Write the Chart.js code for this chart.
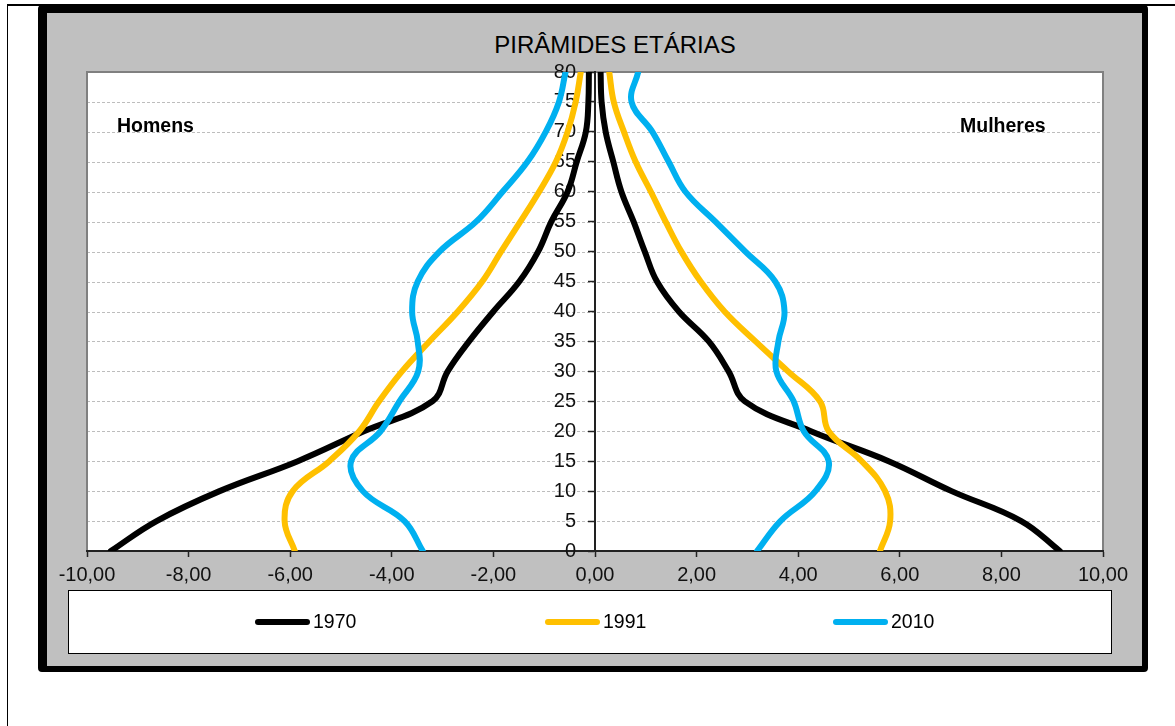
<!DOCTYPE html>
<html>
<head>
<meta charset="utf-8">
<script src="https://cdn.jsdelivr.net/npm/chart.js@4.4.1/dist/chart.umd.min.js"></script>
<style>
  html, body { margin: 0; padding: 0; background: #fff; }
  body { width: 1175px; height: 726px; position: relative; overflow: hidden; font-family: "Liberation Sans", Arial, sans-serif; }
  .pageline-v { position: absolute; left: 7px; top: 4px; width: 1px; height: 722px; background: #000; }
  .pageline-h { position: absolute; left: 7px; top: 4px; width: 1168px; height: 2px; background: #000; }
  #frame { position: absolute; left: 38px; top: 5px; width: 1095px; height: 653px; background: #c0c0c0;
           border-style: solid; border-color: #000; border-width: 8px 6px 6px 9px; border-radius: 4px; }
  #chart { position: absolute; left: 0; top: 0; }
  .title { position: absolute; left: 415px; top: 33px; width: 400px; text-align: center; font-size: 24px; line-height: 24px; color: #000; }
  .side { position: absolute; top: 116px; font-size: 19.5px; line-height: 19px; font-weight: bold; color: #000; }
  #legend { position: absolute; left: 68px; top: 590px; width: 1042px; height: 62px; background: #fff; border: 1px solid #000; }
  .lg-line { position: absolute; height: 6px; width: 55px; border-radius: 3px; top: 619px; }
  .lg-text { position: absolute; top: 612px; font-size: 19.5px; line-height: 19px; color: #000; }
</style>
</head>
<body>
<div class="pageline-v"></div>
<div class="pageline-h"></div>
<div id="frame"></div>
<div class="title">PIRÂMIDES ETÁRIAS</div>
<div id="legend"></div>
<canvas id="chart" width="1175" height="726"></canvas>
<div class="side" style="left:117px;">Homens</div>
<div class="side" style="left:960px;">Mulheres</div>
<div id="legend-items"></div>
<script>
// ---- data ----
const ages = [0, 5, 10, 15, 20, 25, 30, 35, 40, 45, 50, 55, 60, 65, 70, 75, 80];
const years = ['1970', '1991', '2010'];

const homens1970   = [-9.53, -8.63, -7.39, -5.85, -4.55, -3.20, -2.90, -2.48, -2.00, -1.49, -1.12, -0.86, -0.54, -0.36, -0.18, -0.13, -0.12];
const mulheres1970 = [ 9.15,  8.39,  7.02,  5.78,  4.25,  2.95,  2.63,  2.24,  1.65,  1.22,  0.98,  0.76,  0.52,  0.36,  0.21,  0.13,  0.11];
const homens1991   = [-5.91, -6.11, -5.95, -5.23, -4.64, -4.25, -3.80, -3.26, -2.70, -2.22, -1.85, -1.47, -1.10, -0.77, -0.54, -0.38, -0.28];
const mulheres1991 = [ 5.61,  5.81,  5.71,  5.25,  4.60,  4.43,  3.80,  3.16,  2.55,  2.08,  1.70,  1.39,  1.10,  0.80,  0.57,  0.37,  0.28];
const homens2010   = [-3.39, -3.75, -4.57, -4.80, -4.22, -3.85, -3.48, -3.49, -3.60, -3.49, -3.06, -2.34, -1.82, -1.33, -0.97, -0.71, -0.58];
const mulheres2010 = [ 3.19,  3.65,  4.34,  4.60,  4.11,  3.91,  3.57,  3.61,  3.73,  3.55,  2.96,  2.37,  1.78,  1.45,  1.13,  0.72,  0.85];

const xTickLabels = ['-10,00', '-8,00', '-6,00', '-4,00', '-2,00', '0,00', '2,00', '4,00', '6,00', '8,00', '10,00'];
const yTickLabels = ['0', '5', '10', '15', '20', '25', '30', '35', '40', '45', '50', '55', '60', '65', '70', '75', '80'];

// ---- styles ----
const colors = ['#000000', '#FFC000', '#00B0F0'];
const menSeries = [homens1970, homens1991, homens2010];
const womenSeries = [mulheres1970, mulheres1991, mulheres2010];
const FONT = '"Liberation Sans", Arial, sans-serif';

const datasets = [];
years.forEach((yr, i) => {
  [menSeries[i], womenSeries[i]].forEach((arr) => {
    datasets.push({
      label: yr,
      data: ages.map((a, k) => ({ x: arr[k], y: a })),
      showLine: true,
      borderColor: colors[i],
      backgroundColor: colors[i],
      borderWidth: 6,
      pointRadius: 0,
      pointHoverRadius: 0,
      tension: 0.4,
      borderCapStyle: 'round',
      borderJoinStyle: 'round',
      order: years.length - i
    });
  });
});

const plotBg = {
  id: 'plotBg',
  beforeDraw(chart) {
    const { ctx, chartArea: a, scales: { y } } = chart;
    ctx.save();
    ctx.fillStyle = '#ffffff';
    ctx.fillRect(a.left, a.top, a.right - a.left, a.bottom - a.top);
    ctx.strokeStyle = '#bdbdbd';
    ctx.lineWidth = 1;
    ctx.setLineDash([3, 2]);
    y.ticks.forEach((t) => {
      if (t.value > y.min && t.value < y.max) {
        const py = Math.round(y.getPixelForValue(t.value)) + 0.5;
        ctx.beginPath();
        ctx.moveTo(a.left, py);
        ctx.lineTo(a.right, py);
        ctx.stroke();
      }
    });
    ctx.setLineDash([]);
    ctx.strokeStyle = '#808080';
    ctx.lineWidth = 2;
    ctx.strokeRect(a.left, a.top, a.right - a.left, a.bottom - a.top);
    ctx.restore();
  }
};

new Chart(document.getElementById('chart'), {
  type: 'scatter',
  data: { datasets },
  plugins: [plotBg],
  options: {
    responsive: false,
    animation: false,
    events: [],
    layout: { padding: { left: 87, top: 72, right: 72, bottom: 135 } },
    plugins: { legend: { display: false }, title: { display: false }, tooltip: { enabled: false } },
    scales: {
      x: {
        type: 'linear',
        position: 'bottom',
        min: -10, max: 10,
        afterFit: (s) => { s.height = 40; },
        ticks: {
          stepSize: 2,
          padding: 6,
          color: '#111',
          font: { family: FONT, size: 20 },
          maxRotation: 0,
          autoSkip: false,
          callback: (v, i) => xTickLabels[i]
        },
        grid: { drawOnChartArea: false, drawTicks: true, tickLength: 6, tickColor: '#222', tickWidth: 1.5 },
        border: { display: true, color: '#222', width: 2 }
      },
      y: {
        type: 'linear',
        position: 'center',
        min: 0, max: 80,
        ticks: {
          stepSize: 5,
          padding: 13,
          color: '#111',
          font: { family: FONT, size: 20 },
          autoSkip: false,
          callback: (v, i) => yTickLabels[i]
        },
        grid: { drawOnChartArea: false, drawTicks: true, tickLength: 6, tickColor: '#222', tickWidth: 1.5 },
        border: { display: true, color: '#222', width: 2 }
      }
    }
  }
});

// ---- legend ----
const legendLeft = [255, 545, 833];
const lg = document.getElementById('legend-items');
years.forEach((yr, i) => {
  const line = document.createElement('div');
  line.className = 'lg-line';
  line.style.left = legendLeft[i] + 'px';
  line.style.background = colors[i];
  lg.appendChild(line);
  const txt = document.createElement('div');
  txt.className = 'lg-text';
  txt.style.left = (legendLeft[i] + 58) + 'px';
  txt.textContent = yr;
  lg.appendChild(txt);
});
</script>
</body>
</html>
